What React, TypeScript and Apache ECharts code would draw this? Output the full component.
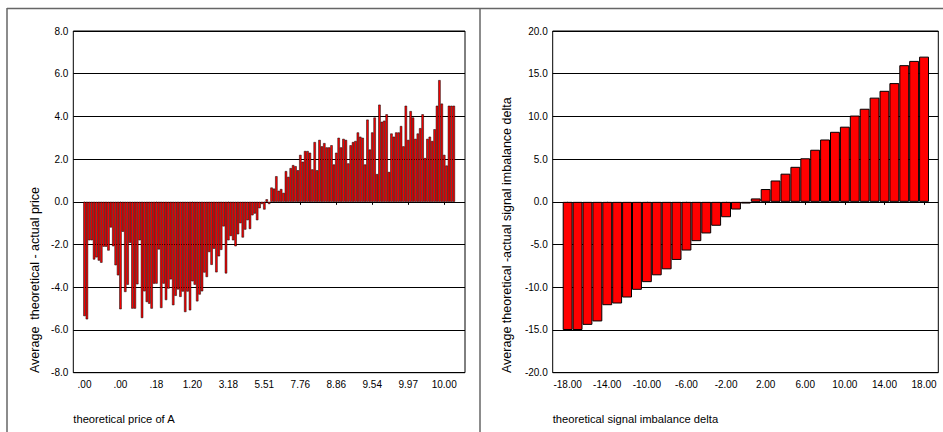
import React, { useEffect, useRef } from "react";
import * as echarts from "echarts";

// Left chart: average theoretical - actual price per category of theoretical price of A
const leftValues: number[] = [
  -5.35, -5.5, -1.8, -1.8, -2.7, -2.6, -2.75, -2.85, -2.1, -2.1,
  -2.28, -1.2, -2.08, -2.97, -3.44, -5.03, -1.4, -4.22, -3.88, -1.92,
  -5.0, -5.0, -3.86, -1.8, -5.44, -4.19, -4.69, -4.77, -5.0, -3.83,
  -3.83, -2.23, -4.97, -3.83, -4.6, -4.06, -3.63, -4.84, -4.4, -4.1,
  -4.45, -4.2, -5.16, -4.2, -5.08, -3.72, -3.88, -4.66, -4.34, -4.19,
  -3.31, -3.52, -2.35, -2.95, -2.2, -3.3, -2.55, -2.25, -1.15, -3.35,
  -1.8, -1.6, -1.8, -2.08, -1.52, -1.0, -1.67, -1.3, -0.86, -1.27,
  -0.63, -0.55, -0.86, -0.3, -0.1, -0.36, 0.12, -0.1, 0.67, 0.62,
  1.2, 0.52, 0.6, 0.42, 1.44, 1.17, 1.58, 1.72, 1.67, 1.48,
  2.2, 1.88, 2.38, 2.38, 2.3, 1.52, 2.8, 1.48, 2.9, 2.6,
  2.75, 2.55, 2.55, 2.65, 1.75, 2.3, 3.0, 2.55, 2.95, 2.9,
  1.8, 2.65, 2.8, 2.85, 3.25, 3.05, 3.0, 1.75, 3.85, 2.45,
  3.25, 3.95, 1.3, 4.55, 3.75, 3.8, 4.1, 1.4, 3.2, 3.05,
  3.25, 3.25, 3.55, 2.6, 4.5, 2.9, 4.25, 3.95, 2.95, 3.2,
  3.45, 4.1, 2.05, 2.95, 3.05, 2.85, 3.4, 4.5, 5.7, 4.6,
  2.2, 1.7, 4.5, 4.5, 4.5,
];
const leftTickLabels: string[] = [
  ".00", ".00", ".18", "1.20", "3.18", "5.51", "7.76", "8.86", "9.54", "9.97", "10.00",
];
const leftTickEvery = 15;

// Right chart
const rightCategories: number[] = [
  -18, -17, -16, -15, -14, -13, -12, -11, -10, -9, -8, -7, -6, -5, -4, -3, -2, -1,
  0, 1, 2, 3, 4, 5, 6, 7, 8, 9, 10, 11, 12, 13, 14, 15, 16, 17, 18,
];
const rightValues: number[] = [
  -15.0, -15.0, -14.4, -14.0, -12.1, -11.9, -11.2, -10.3, -9.4, -8.6, -7.9, -6.8,
  -5.7, -4.6, -3.7, -2.8, -1.8, -0.9, -0.2, 0.4, 1.5, 2.5, 3.3, 4.1, 5.1, 6.1,
  7.3, 8.2, 8.8, 10.1, 10.9, 12.2, 13.0, 13.9, 16.0, 16.5, 17.0,
];

const leftYName = "Average  theoretical - actual price";
const leftXName = "theoretical price of A";
const rightYName = "Average theoretical -actual signal imbalance delta";
const rightXName = "theoretical signal imbalance delta";

const FONT = "'Liberation Sans', Arial, sans-serif";

export default function App() {
  const ref = useRef<HTMLDivElement>(null);
  useEffect(() => {
    if (!ref.current) return;
    const chart = echarts.init(ref.current, undefined, { renderer: "svg" });

    const top = 31;
    const height = 341.7;
    const leftCategories = leftValues.map((_, i) => String(i));

    const frameGrid = (left: number, width: number) => ({
      left, top, width, height, show: true, borderColor: "#000", borderWidth: 1,
      backgroundColor: "transparent", containLabel: false,
    });
    const barGrid = (left: number, width: number) => ({
      left, top, width, height, show: false, containLabel: false,
    });

    const yLabel = {
      color: "#000", fontSize: 10, fontFamily: FONT, margin: 5,
      formatter: (v: number) => v.toFixed(1),
    };

    const option: any = {
      animation: false,
      backgroundColor: "#fff",
      grid: [
        frameGrid(73.3, 391.7),
        barGrid(83.3, 371.7),
        frameGrid(552.7, 385.6),
        barGrid(562.7, 366.3),
      ],
      xAxis: [
        { gridIndex: 0, type: "value", show: false, min: 0, max: 1 },
        {
          gridIndex: 1, type: "category", data: leftCategories, boundaryGap: true,
          axisLine: { show: false },
          axisTick: { show: true, alignWithLabel: true, interval: leftTickEvery - 1, length: 3, lineStyle: { color: "#000" } },
          axisLabel: {
            interval: leftTickEvery - 1, color: "#000", fontSize: 10, fontFamily: FONT, margin: 7,
            formatter: (_v: string, idx: number) =>
              idx % leftTickEvery === 0 ? leftTickLabels[idx / leftTickEvery] ?? "" : "",
          },
          splitLine: { show: false },
        },
        { gridIndex: 2, type: "value", show: false, min: 0, max: 1 },
        {
          gridIndex: 3, type: "category", data: rightCategories.map(String), boundaryGap: true,
          axisLine: { show: false },
          axisTick: { show: true, alignWithLabel: true, interval: 3, length: 3, lineStyle: { color: "#000" } },
          axisLabel: {
            interval: 3, color: "#000", fontSize: 10, fontFamily: FONT, margin: 7,
            formatter: (v: string) => Number(v).toFixed(2),
          },
          splitLine: { show: false },
        },
      ],
      yAxis: [
        {
          gridIndex: 0, type: "value", min: -8, max: 8, interval: 2,
          axisLine: { show: false }, axisTick: { show: false },
          axisLabel: yLabel,
          splitLine: { show: true, lineStyle: { color: "#000", width: 1 } },
        },
        { gridIndex: 1, type: "value", min: -8, max: 8, show: false, splitLine: { show: false } },
        {
          gridIndex: 2, type: "value", min: -20, max: 20, interval: 5,
          axisLine: { show: false }, axisTick: { show: false },
          axisLabel: yLabel,
          splitLine: { show: true, lineStyle: { color: "#000", width: 1 } },
        },
        { gridIndex: 3, type: "value", min: -20, max: 20, show: false, splitLine: { show: false } },
      ],
      series: [
        {
          type: "bar", xAxisIndex: 1, yAxisIndex: 1, data: leftValues,
          barCategoryGap: "0%", barGap: "0%",
          itemStyle: { color: "#ff0000", borderColor: "#000", borderWidth: 0.5 },
        },
        {
          type: "bar", xAxisIndex: 3, yAxisIndex: 3, data: rightValues,
          barCategoryGap: "0%", barGap: "0%",
          itemStyle: { color: "#ff0000", borderColor: "#000", borderWidth: 1 },
        },
      ],
      graphic: [
        { type: "line", shape: { x1: 7, y1: 8.5, x2: 943, y2: 8.5 }, style: { stroke: "#666", lineWidth: 1.5 } },
        { type: "line", shape: { x1: 7, y1: 8, x2: 7, y2: 432 }, style: { stroke: "#666", lineWidth: 1.5 } },
        { type: "line", shape: { x1: 480, y1: 8, x2: 480, y2: 432 }, style: { stroke: "#666", lineWidth: 1.5 } },
        {
          type: "text", x: 35, y: 373, rotation: Math.PI / 2,
          style: { text: leftYName, fill: "#000", font: `12.5px ${FONT}`, align: "left", verticalAlign: "middle", textAlign: "left", textVerticalAlign: "middle" },
        },
        {
          type: "text", x: 507.3, y: 373, rotation: Math.PI / 2,
          style: { text: rightYName, fill: "#000", font: `12.5px ${FONT}`, align: "left", verticalAlign: "middle", textAlign: "left", textVerticalAlign: "middle" },
        },
        {
          type: "text", x: 73.3, y: 419,
          style: { text: leftXName, fill: "#000", font: `11.2px ${FONT}`, align: "left", verticalAlign: "middle", textAlign: "left", textVerticalAlign: "middle" },
        },
        {
          type: "text", x: 552.7, y: 419,
          style: { text: rightXName, fill: "#000", font: `11.2px ${FONT}`, align: "left", verticalAlign: "middle", textAlign: "left", textVerticalAlign: "middle" },
        },
      ],
    };
    chart.setOption(option);
    return () => chart.dispose();
  }, []);

  return (
    <div
      ref={ref}
      style={{ position: "fixed", left: 0, top: 0, width: 943, height: 432, background: "#fff" }}
    />
  );
}
